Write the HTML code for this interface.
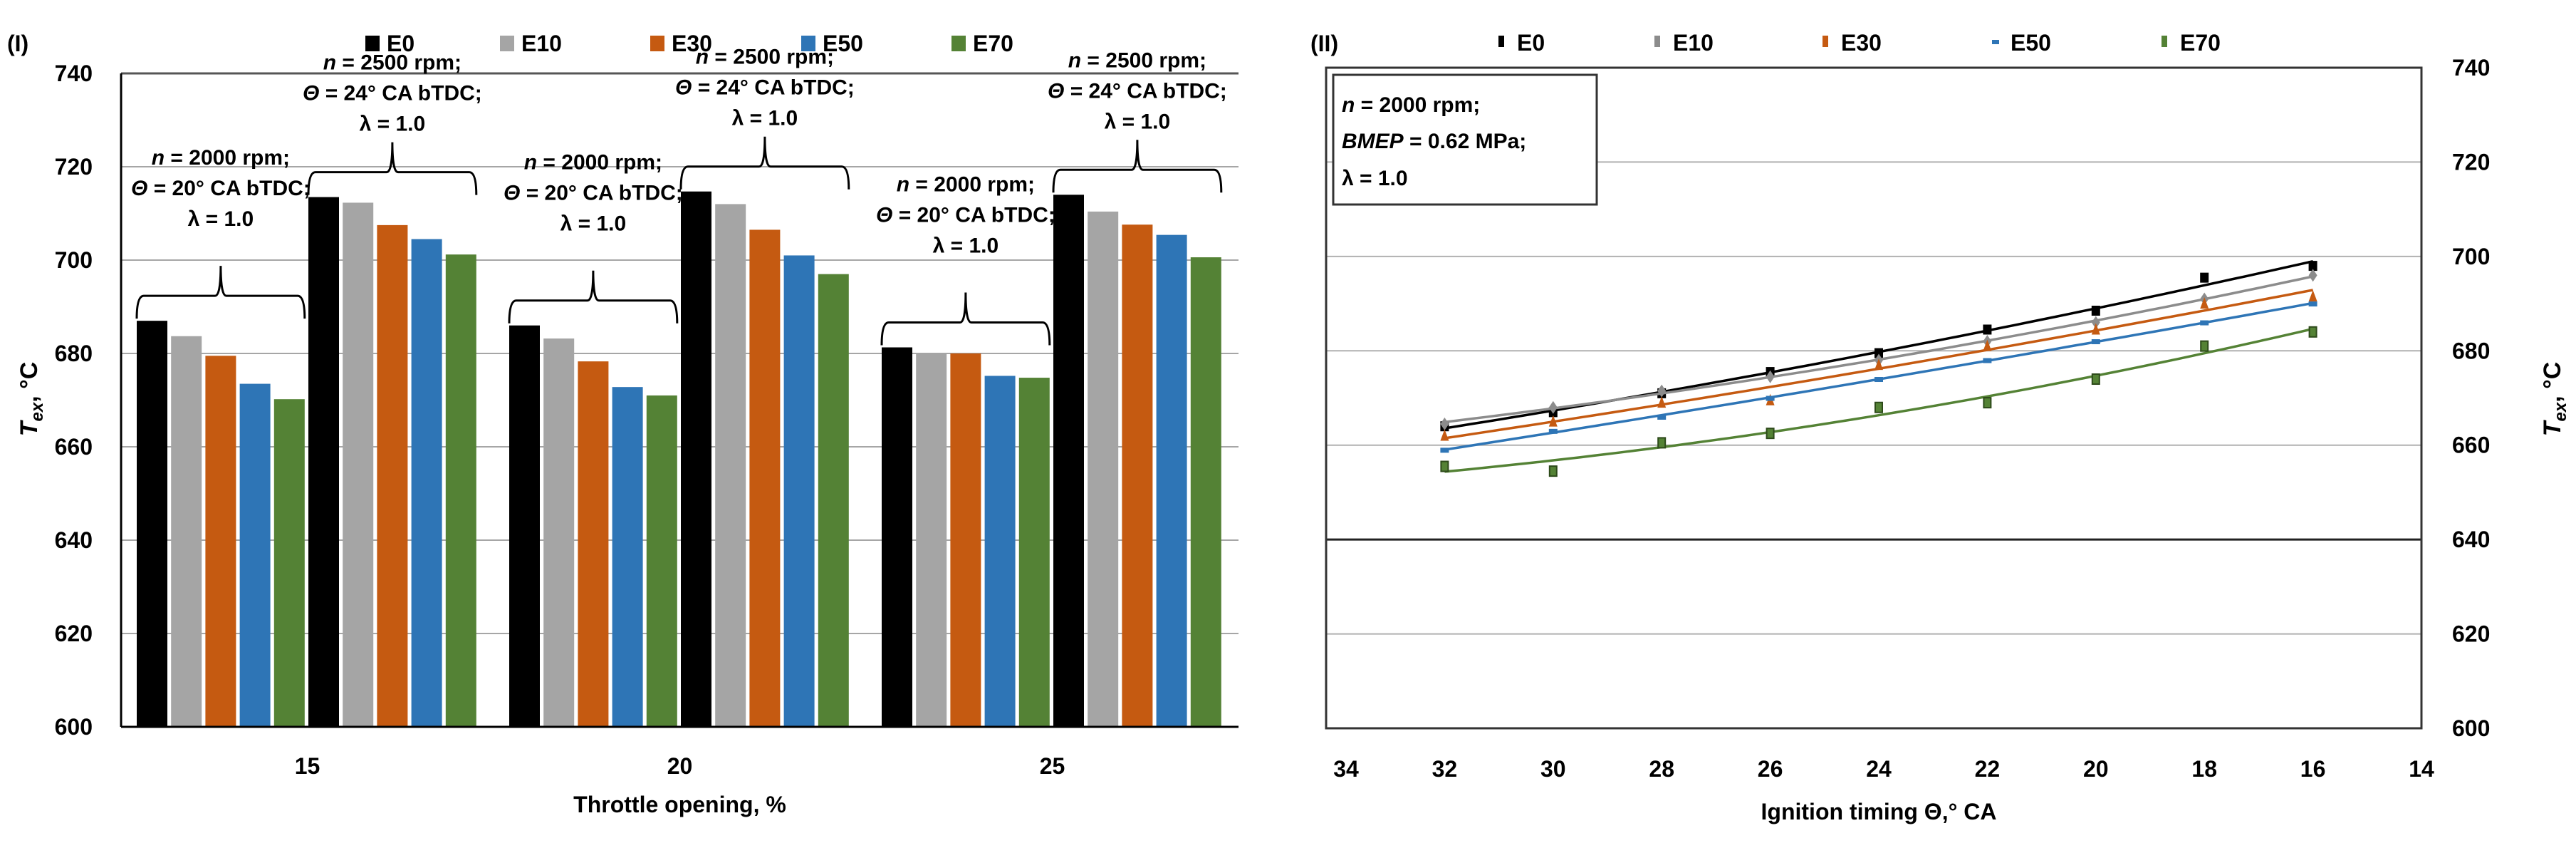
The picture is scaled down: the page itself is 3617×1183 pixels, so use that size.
<!DOCTYPE html>
<html><head><meta charset="utf-8"><style>
html,body{margin:0;padding:0;background:#fff;}
svg{display:block;font-family:"Liberation Sans Narrow","Liberation Sans",sans-serif;font-weight:bold;}
</style></head><body>
<svg id="c" width="3617" height="1183" viewBox="0 0 3617 1183" xmlns="http://www.w3.org/2000/svg">
<rect x="0" y="0" width="3617" height="1183" fill="#fff"/>
<g id="left"></g>
<g id="right"></g>
</svg>
<script>
// ---------- data ----------
const series = ["E0","E10","E30","E50","E70"];
const colors = ["#000000","#a5a5a5","#c55a11","#2e75b6","#548235"];
const throttleCats = ["15","20","25"];
const bars2000 = [[687,683.7,679.5,673.5,670.2],[686,683.2,678.3,672.8,671],[681.3,680,680,675.2,674.8]];
const bars2500 = [[713.5,712.3,707.5,704.5,701.2],[714.7,712,706.5,701,697],[714,710.4,707.6,705.4,700.6]];
const yTicks = [600,620,640,660,680,700,720,740];
const timing = [32,30,28,26,24,22,20,18,16];
const xTicks = [34,32,30,28,26,24,22,20,18,16,14];
const tE0  = [664,667,671,675.5,679.5,684.5,688.5,695.5,698];
const tE10 = [664.5,668,671.5,674.5,678,682,686,691,696];
const tE30 = [662,665,669,669.5,677,681,684.5,690,691.5];
const tE50 = [659,663,666,670,674,678,682,686,690];
const tE70 = [655.5,654.5,660.5,662.5,668,669,674,681,684];
const lineSeries = [tE0,tE10,tE30,tE50,tE70];

const NS="http://www.w3.org/2000/svg";
function mk(parent,tag,attrs,text){const e=document.createElementNS(NS,tag);for(const k in attrs)e.setAttribute(k,attrs[k]);if(text!==undefined)e.textContent=text;parent.appendChild(e);return e;}

// ---------- left bar chart ----------
const L=document.getElementById('left');
const lx0=170,lx1=1739,ly0=1020,ly1=103;
const ly=v=>ly0-(v-600)/(140)*(ly0-ly1);
yTicks.forEach(t=>{
  if(t>600){const g=mk(L,'line',{x1:lx0,x2:lx1,y1:ly(t),y2:ly(t),stroke:t===740?'#555':'#a6a6a6','stroke-width':t===740?3:2});
  
  }
  const tx=mk(L,'text',{x:130,y:ly(t)+11,'text-anchor':'end','font-size':32},String(t));
  
  
});
const catW=(lx1-lx0)/3, pitch=48.2, bw=43;
function bracket(parent,xa,xb,yTop,name){
  const xm=(xa+xb)/2;
  const p=mk(parent,'path',{d:`M${xa} ${yTop+32} Q${xa} ${yTop} ${xa+10} ${yTop} L${xm-8} ${yTop} Q${xm} ${yTop} ${xm} ${yTop-42} Q${xm} ${yTop} ${xm+8} ${yTop} L${xb-10} ${yTop} Q${xb} ${yTop} ${xb} ${yTop+32}`,fill:'none',stroke:'#000','stroke-width':3});
  
  
}
function annot(parent,xm,yBase,lines,name){
  const t=mk(parent,'text',{x:xm,y:yBase,'text-anchor':'middle','font-size':30});
  
  
  lines.forEach((ln,i)=>{const ts=mk(t,'tspan',{x:xm,y:yBase+i*43});ln.forEach(seg=>{const s=mk(ts,'tspan',seg[1]?{'font-style':'italic'}:{},seg[0]);});});
}
const ann2000=[[["n",1],[" = 2000 rpm;",0]],[["Θ",1],[" = 20° CA bTDC;",0]],[["λ = 1.0",0]]];
const ann2500=[[["n",1],[" = 2500 rpm;",0]],[["Θ",1],[" = 24° CA bTDC;",0]],[["λ = 1.0",0]]];
throttleCats.forEach((c,ci)=>{
  const start=lx0+ci*catW+22;
  [bars2000[ci],bars2500[ci]].forEach((vals,gi)=>{
    vals.forEach((v,si)=>{
      const x=start+(gi*5+si)*pitch;
      const r=mk(L,'rect',{x:x,y:ly(v),width:bw,height:ly0-ly(v),fill:colors[si]});
      
      
    });
    const xa=start+gi*5*pitch, xb=xa+4*pitch+bw;
    const top=ly(Math.max(...vals))-35;
    bracket(L,xa,xb,top,'brace-'+c+'-'+(gi?'2500':'2000'));
    annot(L,(xa+xb)/2,top-(gi?144:184),gi?ann2500:ann2000,'annotation-'+c+'-'+(gi?'2500':'2000'));
  });
  const tl=mk(L,'text',{x:lx0+(ci+0.5)*catW,y:1086,'text-anchor':'middle','font-size':32},c);
  
  
});
let ax=mk(L,'line',{x1:lx0,x2:lx0,y1:ly1,y2:ly0,stroke:'#000','stroke-width':3});


ax=mk(L,'line',{x1:lx0,x2:lx1,y1:ly0,y2:ly0,stroke:'#000','stroke-width':3});


let t=mk(L,'text',{x:(lx0+lx1)/2,y:1140,'text-anchor':'middle','font-size':32},'Throttle opening, %');


t=mk(L,'text',{transform:'translate(52,560) rotate(-90)','text-anchor':'middle','font-size':34});


mk(t,'tspan',{'font-style':'italic'},'T');mk(t,'tspan',{'font-style':'italic','font-size':24,dy:8},'ex');mk(t,'tspan',{dy:-8},', °C');
t=mk(L,'text',{x:10,y:72,'font-size':32},'(I)');


const legX=[513,702,913,1125,1336];
series.forEach((s,i)=>{
  const r=mk(L,'rect',{x:legX[i],y:50,width:20,height:22,fill:colors[i]});
  
  
  const tt=mk(L,'text',{x:legX[i]+30,y:72,'font-size':32},s);
  
  
});

// ---------- right line chart ----------
const R=document.getElementById('right');
const rx0=1862,rx1=3400,ry0=1022,ry1=95;
const rxs=v=>3400-(v-14)*76.2;
const rys=v=>ry0-(v-600)/140*(ry0-ry1);
yTicks.forEach(tk=>{
  if(tk>600&&tk<740){const g=mk(R,'line',{x1:rx0,x2:rx1,y1:rys(tk),y2:rys(tk),stroke:tk===640?'#222':'#b0b0b0','stroke-width':tk===640?3:2});
  
  }
  const tx=mk(R,'text',{x:3443,y:rys(tk)+11,'font-size':32},String(tk));
  
  
});
const frame=mk(R,'rect',{x:rx0,y:ry1,width:rx1-rx0,height:ry0-ry1,fill:'none',stroke:'#333','stroke-width':3});


xTicks.forEach(v=>{
  const tx=mk(R,'text',{x:rxs(v)+(v===34?14:0),y:1090,'text-anchor':'middle','font-size':32},String(v));
  
  
});
function quadFit(xs,ys){let n=xs.length,S=[0,0,0,0,0],T=[0,0,0];for(let i=0;i<n;i++){let p=1;for(let k=0;k<5;k++){S[k]+=p;if(k<3)T[k]+=p*ys[i];p*=xs[i];}}
  const A=[[S[0],S[1],S[2],T[0]],[S[1],S[2],S[3],T[1]],[S[2],S[3],S[4],T[2]]];
  for(let i=0;i<3;i++){for(let j=i+1;j<3;j++){const f=A[j][i]/A[i][i];for(let k=i;k<4;k++)A[j][k]-=f*A[i][k];}}
  const c=[0,0,0];for(let i=2;i>=0;i--){let s=A[i][3];for(let k=i+1;k<3;k++)s-=A[i][k]*c[k];c[i]=s/A[i][i];}return c;}
const lineColors=["#000000","#8c8c8c","#c55a11","#2e75b6","#548235"];
lineSeries.forEach((vals,si)=>{
  const cf=quadFit(timing,vals);
  let d='';for(let x=32;x>=16;x-=0.25){const y=cf[0]+cf[1]*x+cf[2]*x*x;d+=(d?'L':'M')+rxs(x).toFixed(1)+' '+rys(y).toFixed(1);}
  const p=mk(R,'path',{d:d,fill:'none',stroke:lineColors[si],'stroke-width':3.5});
  
  
  vals.forEach((v,i)=>{
    const cx=rxs(timing[i]),cy=rys(v);let m;
    if(si===0)m=mk(R,'rect',{x:cx-6,y:cy-7,width:12,height:14,fill:'#000'});
    else if(si===1)m=mk(R,'path',{d:`M${cx} ${cy-9}L${cx+6} ${cy}L${cx} ${cy+9}L${cx-6} ${cy}Z`,fill:'#8c8c8c'});
    else if(si===2)m=mk(R,'path',{d:`M${cx} ${cy-9}L${cx+6} ${cy+7}L${cx-6} ${cy+7}Z`,fill:'#c55a11'});
    else if(si===3)m=mk(R,'rect',{x:cx-6,y:cy-3,width:12,height:7,fill:'#2e75b6'});
    else m=mk(R,'rect',{x:cx-5,y:cy-7,width:10,height:14,fill:'#548235',stroke:'#2d4a1a','stroke-width':2});
    
    
  });
});
const rlegX=[2108,2327,2563,2801,3039];
series.forEach((s,i)=>{
  const m=mk(R,'rect',{x:rlegX[i]-4,y:i===3?56:50,width:i===3?10:8,height:i===3?6:16,fill:lineColors[i]});
  
  
  const tt=mk(R,'text',{x:rlegX[i]+22,y:71,'font-size':32},s);
  
  
});
const box=mk(R,'rect',{x:1872,y:105,width:370,height:182,fill:'#fff',stroke:'#333','stroke-width':3});


t=mk(R,'text',{'font-size':30});


let ts=mk(t,'tspan',{x:1884,y:157});mk(ts,'tspan',{'font-style':'italic'},'n');mk(ts,'tspan',{},' = 2000 rpm;');
ts=mk(t,'tspan',{x:1884,y:208});mk(ts,'tspan',{'font-style':'italic'},'BMEP');mk(ts,'tspan',{},' = 0.62 MPa;');
ts=mk(t,'tspan',{x:1884,y:260},'λ = 1.0');
t=mk(R,'text',{x:(1876+3400)/2,y:1150,'text-anchor':'middle','font-size':32},'Ignition timing Θ,° CA');


t=mk(R,'text',{transform:'translate(3595,560) rotate(-90)','text-anchor':'middle','font-size':34});


mk(t,'tspan',{'font-style':'italic'},'T');mk(t,'tspan',{'font-style':'italic','font-size':24,dy:8},'ex');mk(t,'tspan',{dy:-8},', °C');
t=mk(R,'text',{x:1840,y:72,'font-size':32},'(II)');


</script>
</body></html>
